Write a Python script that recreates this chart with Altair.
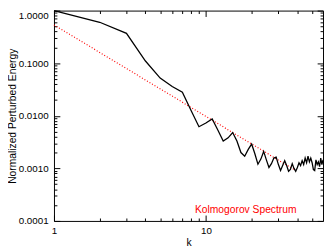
import altair as alt
import pandas as pd

# ---- data ----
k = list(range(1, 60))
energy = [
    1.0, 0.60, 0.37, 0.11, 0.052, 0.036, 0.028, 0.0125, 0.0062, 0.0073,
    0.0087, 0.0053, 0.0033, 0.0038, 0.0048, 0.0033, 0.0020, 0.0017, 0.0023, 0.0029,
    0.0019, 0.0012, 0.0015, 0.0021, 0.00145, 0.00104, 0.00123, 0.00157, 0.00164, 0.00118,
    0.00091, 0.00113, 0.0014, 0.00113, 0.00088, 0.00095, 0.00123, 0.0010, 0.00088, 0.00104,
    0.00128, 0.00113, 0.0014, 0.00118, 0.00157, 0.00128, 0.0017, 0.00133, 0.00157, 0.00128,
    0.00095, 0.00091, 0.00145, 0.00118, 0.00133, 0.00108, 0.00157, 0.00118, 0.00145,
]
kolmo_k = [1, 39]
kolmo_e = [0.535, 0.00091]
label_text = ["Kolmogorov Spectrum"]

x_label_values = [1, 10]
y_label_values = [0.0001, 0.001, 0.01, 0.1, 1.0]
x_tick_values = [1, 2, 3, 4, 5, 6, 7, 8, 9, 10, 20, 30, 40, 50]
y_tick_values = [
    0.0001, 0.0002, 0.0003, 0.0004, 0.0005, 0.0006, 0.0007, 0.0008, 0.0009,
    0.001, 0.002, 0.003, 0.004, 0.005, 0.006, 0.007, 0.008, 0.009,
    0.01, 0.02, 0.03, 0.04, 0.05, 0.06, 0.07, 0.08, 0.09,
    0.1, 0.2, 0.3, 0.4, 0.5, 0.6, 0.7, 0.8, 0.9, 1.0,
]

df = pd.DataFrame({"k": k, "energy": energy})
df_k = pd.DataFrame({"k": kolmo_k, "energy": kolmo_e})
df_t = pd.DataFrame({"label": label_text})

W, H = 275, 215
FONT = "Liberation Sans"

xscale = alt.Scale(type="log", domain=[1, 59], nice=False)
yscale = alt.Scale(type="log", domain=[0.0001, 1], nice=False)

major = "abs(log(datum.value)/LN10 - round(log(datum.value)/LN10)) < 0.000001"
tick_size = {"condition": {"test": major, "value": 6}, "value": 3}
top_label_baseline = {"condition": {"test": "datum.value >= 0.999", "value": "top"}, "value": "middle"}


def tick_axis(orient, offset, values, domain):
    return alt.Axis(
        orient=orient, offset=offset, values=values, labels=False, title=None,
        grid=False, domain=domain, domainColor="black", domainWidth=1,
        ticks=True, tickColor="black", tickSize=tick_size, tickWidth=1,
    )


main = alt.Chart(df).mark_line(color="black", strokeWidth=1.3).encode(
    x=alt.X("k:Q", scale=xscale, axis=alt.Axis(
        orient="bottom", values=x_label_values, format="d", ticks=False, tickSize=0,
        grid=False, domainColor="black", domainWidth=1, labelFlush=False,
        labelFont=FONT, labelFontSize=10, labelColor="black", labelPadding=5,
        title="k", titleFont=FONT, titleFontSize=10.5, titleFontWeight="normal",
        titleColor="black", titlePadding=2)),
    y=alt.Y("energy:Q", scale=yscale, axis=alt.Axis(
        orient="left", values=y_label_values, format=".4f", ticks=False, tickSize=0,
        grid=False, domainColor="black", domainWidth=1, labelFlush=False,
        labelBaseline=top_label_baseline,
        labelFont=FONT, labelFontSize=10, labelColor="black", labelPadding=6,
        title="Normalized Perturbed Energy", titleFont=FONT, titleFontSize=10.5,
        titleFontWeight="normal", titleColor="black", titlePadding=1)),
)

kolmo = alt.Chart(df_k).mark_line(color="#ff0000", strokeWidth=1.2, strokeDash=[1, 2]).encode(
    x=alt.X("k:Q", scale=xscale, axis=tick_axis("top", -H, x_tick_values, False)),
    y=alt.Y("energy:Q", scale=yscale, axis=tick_axis("right", -W, y_tick_values, False)),
)

frame = alt.Chart(df_k).mark_point(opacity=0).encode(
    x=alt.X("k:Q", scale=xscale, axis=tick_axis("bottom", -H, x_tick_values, True)),
    y=alt.Y("energy:Q", scale=yscale, axis=tick_axis("left", -W, y_tick_values, True)),
)

label = alt.Chart(df_t).mark_text(
    color="#ff0000", font=FONT, fontSize=10.5, align="center", baseline="middle"
).encode(x=alt.value(196), y=alt.value(204), text="label:N")

chart = alt.layer(kolmo, main, frame, label).resolve_axis(
    x="independent", y="independent"
).properties(
    width=W, height=H,
    autosize=alt.AutoSizeParams(type="none"),
    padding={"left": 47, "top": 0, "right": 1, "bottom": 25},
    background="white",
).configure_view(strokeWidth=0)

chart.save("out.html", embed_options={"renderer": "svg", "actions": False})
